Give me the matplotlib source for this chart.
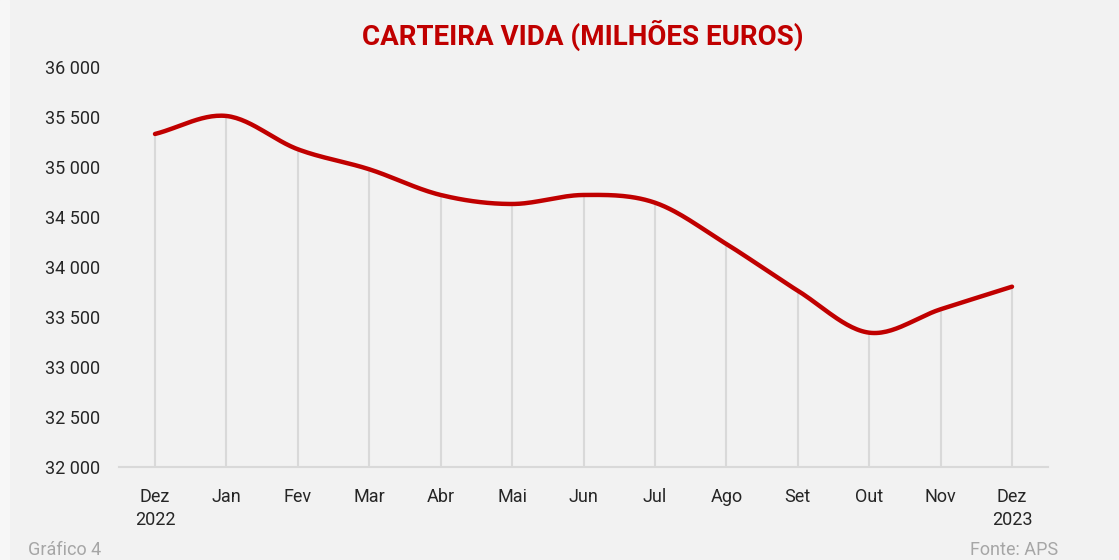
import numpy as np
import matplotlib
matplotlib.use('Agg')
import matplotlib.pyplot as plt
from matplotlib.ticker import FuncFormatter

# data
months = ['Dez\n2022', 'Jan', 'Fev', 'Mar', 'Abr', 'Mai', 'Jun', 'Jul', 'Ago',
          'Set', 'Out', 'Nov', 'Dez\n2023']
carteira = [35330, 35510, 35177, 34977, 34720, 34630, 34720, 34643, 34230,
            33763, 33343, 33577, 33803]

plt.rcParams['font.family'] = ['Roboto', 'DejaVu Sans']

red = '#c00000'
bg = '#f2f2f2'


def smooth(x, y, n=30):
    # catmull-rom curve through the points (like excel smoothed line)
    x = np.asarray(x, float)
    y = np.asarray(y, float)
    px = np.concatenate([[2 * x[0] - x[1]], x, [2 * x[-1] - x[-2]]])
    py = np.concatenate([[2 * y[0] - y[1]], y, [2 * y[-1] - y[-2]]])
    xs, ys = [], []
    t = np.linspace(0, 1, n)
    for i in range(1, len(px) - 2):
        for p, out in ((px, xs), (py, ys)):
            p0, p1, p2, p3 = p[i - 1], p[i], p[i + 1], p[i + 2]
            out.extend(0.5 * (2 * p1 + (-p0 + p2) * t
                              + (2 * p0 - 5 * p1 + 4 * p2 - p3) * t ** 2
                              + (-p0 + 3 * p1 - 3 * p2 + p3) * t ** 3))
    return np.array(xs), np.array(ys)


fig = plt.figure(figsize=(11.19, 5.6), dpi=100, facecolor=bg)
fig.patches.append(plt.Rectangle((0, 0), 9 / 1119, 1, transform=fig.transFigure,
                                 color='#f7f7f7', zorder=0))
ax = fig.add_axes([0.1066, 0.1661, 0.8297, 0.7143])
ax.set_facecolor(bg)

x = np.arange(len(months))
ax.vlines(x, 32000, carteira, color='#d9d9d9', lw=1.5, zorder=1)
sx, sy = smooth(x, carteira)
ax.plot(sx, sy, color=red, lw=3.2, solid_capstyle='round', zorder=3)

ax.set_xlim(-0.5, len(months) - 0.5)
ax.set_ylim(32000, 36000)
ax.set_yticks(np.arange(32000, 36001, 500))
ax.yaxis.set_major_formatter(FuncFormatter(lambda v, p: f'{int(v):,}'.replace(',', ' ')))
ax.set_xticks(x)
ax.set_xticklabels(months, linespacing=1.35)

for s in ['top', 'right', 'left']:
    ax.spines[s].set_visible(False)
ax.spines['bottom'].set_color('#d9d9d9')
ax.spines['bottom'].set_linewidth(1.5)
ax.tick_params(axis='both', length=0, labelsize=13, colors='#262626')
ax.tick_params(axis='y', pad=14)
ax.tick_params(axis='x', pad=15)

fig.text(0.521, 0.937, 'CARTEIRA VIDA (MILHÕES EUROS)', ha='center', va='center',
         fontsize=20, fontweight='bold', color=red)
fig.text(28 / 1119, 0.002, 'Gráfico 4', ha='left', va='bottom', fontsize=13, color='#a6a6a6')
fig.text(1058 / 1119, 0.002, 'Fonte: APS', ha='right', va='bottom', fontsize=13, color='#a6a6a6')

plt.savefig('out.png', dpi=100, facecolor=bg)
